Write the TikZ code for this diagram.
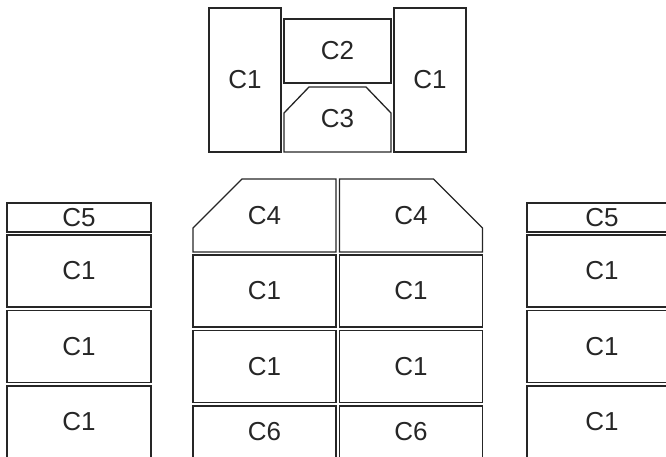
\documentclass[tikz,border=0pt]{standalone}
\usepackage{fontspec}
\setmainfont{Liberation Sans}

\begin{document}
\begin{tikzpicture} [
    x=1pt, y=-1pt,
    block/.style    = { rectangle, draw=black!85, line width=1.2pt, text=black!85,
                        inner sep=0pt, font=\fontsize{26}{30}\selectfont },
    cut/.style      = { draw=black!85, line width=1.3pt, line join=miter },
    label/.style    = { text=black!85, inner sep=0pt, font=\fontsize{26}{30}\selectfont },
  ]
  \useasboundingbox (0,0) rectangle (666,457);
  \clip (0,0) rectangle (666,457);

  % top group
  \node[block, minimum width=72pt, minimum height=144pt] (topl) at (245,80) {C1};
  \node[block, minimum width=107pt, minimum height=64pt] (topc) at (337.5,51) {C2};
  \node[block, minimum width=72pt, minimum height=144pt] (topr) at (430,80) {C1};
  \draw[cut] (284,152) -- (284,113) -- (309,87) -- (366,87) -- (391,113) -- (391,152) -- cycle;
  \node[label] (topm) at (337.5,119) {C3};

  % left column
  \node[block, minimum width=144pt, minimum height=29pt] (lhead) at (79,217.5) {C5};
  \node[block, minimum width=144pt, minimum height=72pt] (lrowa) at (79,271) {C1};
  \node[block, minimum width=144pt, minimum height=72pt] (lrowb) at (79,346.5) {C1};
  \node[block, minimum width=144pt, minimum height=72pt] (lrowc) at (79,422) {C1};

  % middle columns
  \draw[cut] (193,252) -- (193,228) -- (242,179) -- (336,179) -- (336,252) -- cycle;
  \node[label] (mheadl) at (264.5,216) {C4};
  \draw[cut] (339.5,252) -- (339.5,179) -- (433.5,179) -- (482.5,228) -- (482.5,252) -- cycle;
  \node[label] (mheadr) at (411,216) {C4};
  \node[block, minimum width=143pt, minimum height=72pt] (mrowal) at (264.5,291) {C1};
  \node[block, minimum width=143pt, minimum height=72pt] (mrowar) at (411,291) {C1};
  \node[block, minimum width=143pt, minimum height=72pt] (mrowbl) at (264.5,366.5) {C1};
  \node[block, minimum width=143pt, minimum height=72pt] (mrowbr) at (411,366.5) {C1};
  \node[block, minimum width=143pt, minimum height=52pt] (mbasel) at (264.5,432) {C6};
  \node[block, minimum width=143pt, minimum height=52pt] (mbaser) at (411,432) {C6};

  % right column
  \node[block, minimum width=150pt, minimum height=29pt] (rhead) at (602,217.5) {C5};
  \node[block, minimum width=150pt, minimum height=72pt] (rrowa) at (602,271) {C1};
  \node[block, minimum width=150pt, minimum height=72pt] (rrowb) at (602,346.5) {C1};
  \node[block, minimum width=150pt, minimum height=72pt] (rrowc) at (602,422) {C1};
\end{tikzpicture}
\end{document}
